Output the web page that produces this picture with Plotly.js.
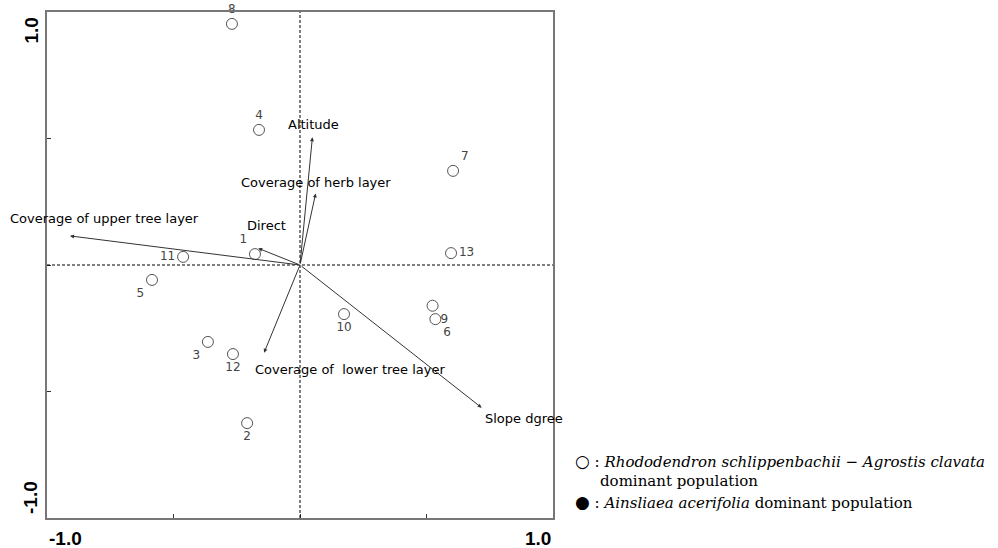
<!DOCTYPE html>
<html>
<head>
<meta charset="utf-8">
<script src="https://cdn.plot.ly/plotly-3.0.1.min.js"></script>
<style>html,body{margin:0;padding:0;background:#fff;}#chart{width:998px;height:548px;}</style>
</head>
<body>
<div id="chart"></div>
<script>
// ---- data ----
const plotIds = ['8','4','7','13','1','11','5','10','9','6','3','12','2'];
const plotX = [-0.269, -0.162, 0.605, 0.597, -0.178, -0.462, -0.585, 0.174, 0.524, 0.535, -0.364, -0.265, -0.209];
const plotY = [0.953, 0.534, 0.372, 0.047, 0.043, 0.032, -0.059, -0.194, -0.161, -0.214, -0.304, -0.352, -0.625];

const envNames = ['Altitude', 'Coverage of herb layer', 'Direct', 'Coverage of upper tree layer', 'Coverage of  lower tree layer', 'Slope dgree'];
const envX = [0.049, 0.062, -0.165, -0.909, -0.142, 0.718];
const envY = [0.505, 0.283, 0.066, 0.115, -0.347, -0.564];

const axisTickVals = [-1, -0.5, 0, 0.5, 1];
const axisEndLabels = ['-1.0', '1.0'];

// ---- styling / placement ----
const labelPos = ['top center','top center','top right','middle right','top left','middle left','bottom left','bottom center','bottom right','bottom right','bottom left','bottom center','bottom center'];
const envLabelPlace = [
  {xa:'center', ya:'bottom', dx:1, dy:3},
  {xa:'center', ya:'bottom', dx:0, dy:1},
  {xa:'center', ya:'bottom', dx:8, dy:13},
  {xa:'left', ya:'bottom', dx:-62, dy:8},
  {xa:'left', ya:'top', dx:-11, dy:-7},
  {xa:'left', ya:'top', dx:1, dy:-1}
];

const labelFont = {family:'DejaVu Sans, Arial', size:13, color:'#000'};

const traces = [{
  type:'scatter', mode:'markers+text',
  x: plotX, y: plotY, text: plotIds, textposition: labelPos,
  textfont:{family:'DejaVu Sans, Arial', size:12, color:'#444'},
  marker:{symbol:'circle-open', size:11, color:'#555', line:{width:1, color:'#555'}},
  cliponaxis:false, hoverinfo:'none', showlegend:false
}];

const ann = [];
envNames.forEach((n,i)=>{
  ann.push({x:envX[i], y:envY[i], ax:0, ay:0, xref:'x', yref:'y', axref:'x', ayref:'y',
    text:'', showarrow:true, arrowhead:2, arrowsize:0.8, arrowwidth:1, arrowcolor:'#333'});
  const p = envLabelPlace[i];
  ann.push({x:envX[i], y:envY[i], xref:'x', yref:'y', text:n, showarrow:false,
    xanchor:p.xa, yanchor:p.ya, xshift:p.dx, yshift:p.dy, font:labelFont});
});
// axis end labels
const tickFont = {family:'Liberation Sans, Arial', size:19, color:'#000'};
ann.push({x:-1, y:0, xref:'x', yref:'paper', text:'<b>'+axisEndLabels[0]+'</b>', showarrow:false, xanchor:'left', yanchor:'top', yshift:-8, font:tickFont});
ann.push({x:1, y:0, xref:'x', yref:'paper', text:'<b>'+axisEndLabels[1]+'</b>', showarrow:false, xanchor:'right', yanchor:'top', yshift:-8, font:tickFont});
ann.push({x:0, y:1, xref:'paper', yref:'y', text:'<b>'+axisEndLabels[1]+'</b>', showarrow:false, textangle:-90, xanchor:'right', yanchor:'top', xshift:-4, yshift:-4, font:tickFont});
ann.push({x:0, y:-1, xref:'paper', yref:'y', text:'<b>'+axisEndLabels[0]+'</b>', showarrow:false, textangle:-90, xanchor:'right', yanchor:'bottom', xshift:-4, yshift:2, font:tickFont});

// legend text
const serif = {family:'DejaVu Serif, Liberation Serif, serif', size:15, color:'#000'};
const legend = [
  {t:'<span style="font-size:17px">○</span> : <i>Rhododendron schlippenbachii − Agrostis clavata</i>', x:1.039, y:0.113},
  {t:'dominant population', x:1.088, y:0.073},
  {t:'<span style="font-size:17px">●</span> : <i>Ainsliaea acerifolia</i> dominant population', x:1.039, y:0.032}
];
legend.forEach(l=>ann.push({x:l.x, y:l.y, xref:'paper', yref:'paper', text:l.t, showarrow:false, xanchor:'left', yanchor:'middle', font:serif}));

const shapes = [
  {type:'line', xref:'x', yref:'paper', x0:0, x1:0, y0:0, y1:1, line:{color:'#000', width:1, dash:'3px,2px'}},
  {type:'line', xref:'paper', yref:'y', x0:0, x1:1, y0:0, y1:0, line:{color:'#000', width:1, dash:'3px,2px'}}
];

const layout = {
  width:998, height:548,
  margin:{l:47, r:445, t:12, b:30},
  paper_bgcolor:'#fff', plot_bgcolor:'#fff',
  xaxis:{range:[-1,1], tickvals:axisTickVals, showticklabels:false, ticks:'inside', ticklen:4, tickcolor:'#333',
    showgrid:false, zeroline:false, showline:true, linecolor:'#777', linewidth:2, mirror:true, fixedrange:true},
  yaxis:{range:[-1,1], tickvals:axisTickVals, showticklabels:false, ticks:'inside', ticklen:4, tickcolor:'#333',
    showgrid:false, zeroline:false, showline:true, linecolor:'#777', linewidth:2, mirror:true, fixedrange:true},
  annotations: ann, shapes: shapes, showlegend:false
};
Plotly.newPlot('chart', traces, layout, {staticPlot:true});
</script>
</body>
</html>
